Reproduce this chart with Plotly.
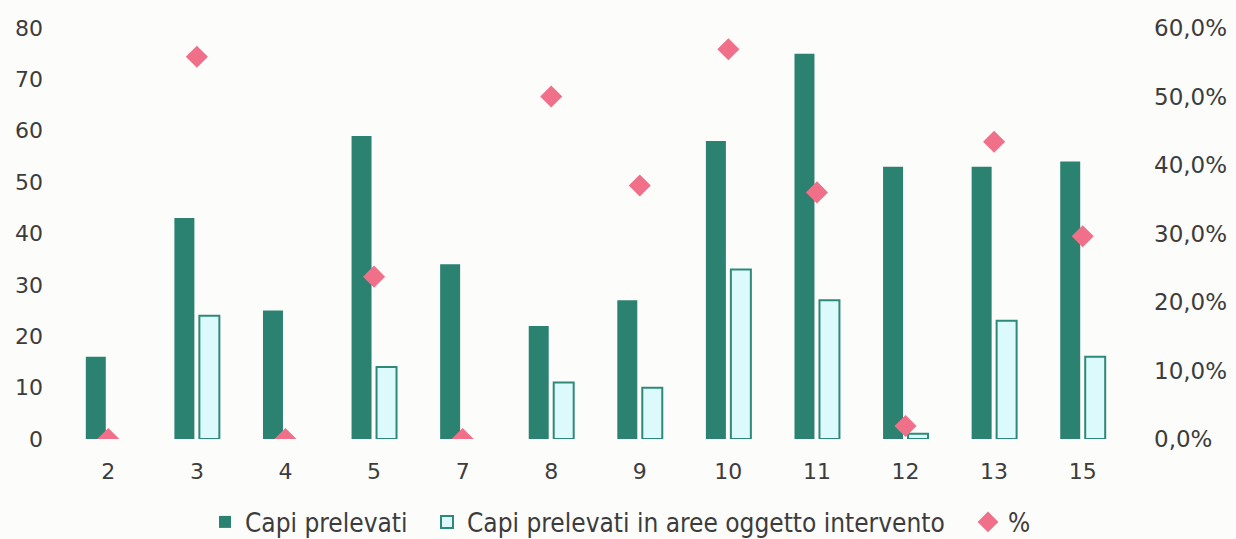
import plotly.graph_objects as go

# Zone / category labels
categorie = ["2", "3", "4", "5", "7", "8", "9", "10", "11", "12", "13", "15"]
# Total animals culled per zone
capi_prelevati = [16, 43, 25, 59, 34, 22, 27, 58, 75, 53, 53, 54]
# Animals culled inside intervention areas
capi_aree_intervento = [0, 24, 0, 14, 0, 11, 10, 33, 27, 1, 23, 16]
# Share culled inside intervention areas
percentuale = [0.0, 0.558, 0.0, 0.237, 0.0, 0.50, 0.37, 0.569, 0.36, 0.019, 0.434, 0.296]

DARK = "#2b8270"
LIGHT_FILL = "#dcfafc"
LIGHT_LINE = "#2e8a78"
PINK = "#f0708a"
TEXT = "#3c3c3c"
FONT = "DejaVu Sans"
W, H = 1236, 539

# zones with no animals in intervention areas get no outlined bar on the baseline
aree_x = [c for c, v in zip(categorie, capi_aree_intervento) if v > 0]
aree_y = [v for v in capi_aree_intervento if v > 0]

fig = go.Figure()
fig.add_trace(go.Bar(
    x=categorie, y=capi_prelevati, name="Capi prelevati", legend="legend",
    showlegend=True,
    marker=dict(color=DARK, line=dict(width=0)),
))
fig.add_trace(go.Bar(
    x=aree_x, y=aree_y, legend="legend2", showlegend=True,
    name="Capi prelevati in aree oggetto intervento",
    marker=dict(color=LIGHT_FILL, line=dict(color=LIGHT_LINE, width=2)),
))
fig.add_trace(go.Scatter(
    x=categorie, y=percentuale, name="%", yaxis="y2", mode="markers",
    legend="legend3", showlegend=True,
    marker=dict(symbol="diamond", size=17, color=PINK, line=dict(width=0)),
))


def legend_at(px):
    # one legend entry, left edge placed at a pixel column of the page
    return dict(
        orientation="h", xref="container", x=px / W, xanchor="left",
        yref="container", y=1 - 522 / H, yanchor="middle",
        font=dict(family="DejaVu Sans Condensed", size=26, color=TEXT),
        itemwidth=30, bgcolor="rgba(0,0,0,0)",
    )


fig.update_layout(
    width=W, height=H, showlegend=True,
    margin=dict(l=64, r=109, t=28, b=100, autoexpand=False),
    paper_bgcolor="#fcfcfa", plot_bgcolor="#fcfcfa",
    separators=",.",
    barmode="group", bargap=0.436, bargroupgap=0.2,
    font=dict(family=FONT, color=TEXT, size=22),
    xaxis=dict(
        type="category", categoryorder="array", categoryarray=categorie,
        range=[-0.5, len(categorie) - 0.5],
        showgrid=False, showline=False, zeroline=False,
        ticks="", automargin=False, ticklabelstandoff=17,
        tickfont=dict(size=22, color=TEXT),
    ),
    yaxis=dict(
        range=[0, 80], dtick=10, showgrid=False, showline=False,
        zeroline=False, ticks="", ticklabelstandoff=20, automargin=False,
        tickfont=dict(size=22, color=TEXT),
    ),
    yaxis2=dict(
        range=[0, 0.6], dtick=0.1, tickformat=".1%", overlaying="y",
        side="right", showgrid=False, showline=False, zeroline=False,
        ticks="", ticklabelstandoff=26, automargin=False,
        tickfont=dict(size=23, color=TEXT),
    ),
    legend=legend_at(205),
    legend2=legend_at(427),
    legend3=legend_at(968),
)

fig.write_html("out.html")
